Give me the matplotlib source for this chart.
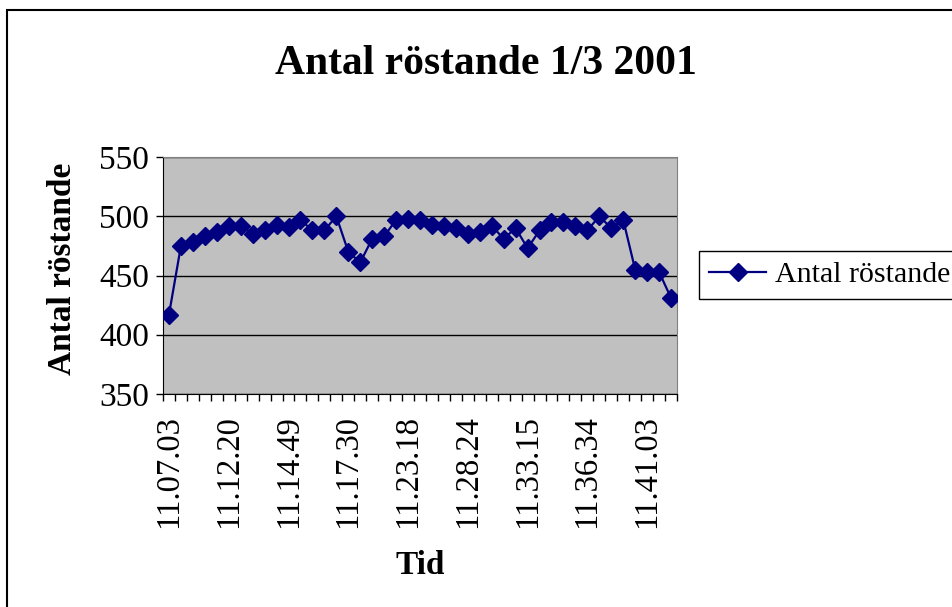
import numpy as np
import matplotlib.pyplot as plt
from matplotlib.patches import Rectangle

plt.rcParams['font.family'] = ['Liberation Serif', 'DejaVu Serif']

# values (one point per reading)
votes = [417, 475, 478, 483, 487, 492, 492, 485, 488, 493,
         491, 497, 488, 488, 500, 470, 461, 481, 483, 497,
         498, 497, 493, 492, 490, 485, 487, 492, 481, 490,
         473, 488, 495, 495, 492, 488, 500, 490, 497, 455,
         453, 453, 431]
# only every fifth reading is labelled on the axis
time_labels = ['11.07.03', '11.12.20', '11.14.49', '11.17.30', '11.23.18',
               '11.28.24', '11.33.15', '11.36.34', '11.41.03']
y_ticks = [350, 400, 450, 500, 550]

fig = plt.figure(figsize=(9.52, 6.07), dpi=100)
ax = fig.add_axes([163/952, 1-394/607, 514/952, 237/607])
ax.set_facecolor('#c0c0c0')

x = np.arange(len(votes))
ax.plot(x, votes, color='#000080', lw=1.6, marker='D', markersize=9,
        label='Antal röstande', zorder=3)

ax.set_xlim(-0.5, len(votes)-0.5)
ax.set_ylim(350, 550)
ax.set_yticks(y_ticks)
ax.yaxis.grid(True, color='black', lw=1)
ax.set_axisbelow(True)

# tick marks between categories, labels on every 5th category
ax.set_xticks(np.arange(len(votes)+1)-0.5)
ax.set_xticklabels([])
ax.set_xticks(np.arange(0, len(votes), 5), minor=True)
ax.set_xticklabels(time_labels, minor=True, rotation=90, fontsize=23.5)
ax.tick_params(axis='x', which='major', direction='out', length=5, width=1)
ax.tick_params(axis='x', which='minor', length=0, pad=15)
ax.tick_params(axis='y', direction='out', length=5, width=1, labelsize=24, pad=5)

for s in ['top', 'right']:
    ax.spines[s].set_color('#808080')
for s in ['left', 'bottom']:
    ax.spines[s].set_color('black')

ax.set_xlabel('Tid', fontsize=24, fontweight='bold')
ax.xaxis.set_label_coords(0.5, -0.66)
ax.set_ylabel('Antal röstande', fontsize=24, fontweight='bold')
ax.yaxis.set_label_coords(-0.165, 0.53)

fig.text(486/952, 1-64/607, 'Antal röstande 1/3 2001', fontsize=30,
         fontweight='bold', ha='center', va='center')

leg = fig.legend(loc='upper left', bbox_to_anchor=(699/952, 1-251/607),
                 fontsize=21.5, fancybox=False, framealpha=1, edgecolor='black',
                 handlelength=1.9, borderpad=0.35, handletextpad=0.3,
                 borderaxespad=0)
leg.get_frame().set_linewidth(1)

# chart area border (right and bottom edges fall outside the picture)
fig.add_artist(Rectangle((7/952, -0.5), 1.5, 0.5+1-10/607, fill=False,
                         lw=1.5, edgecolor='black', transform=fig.transFigure))

fig.savefig('out.png', dpi=100)
